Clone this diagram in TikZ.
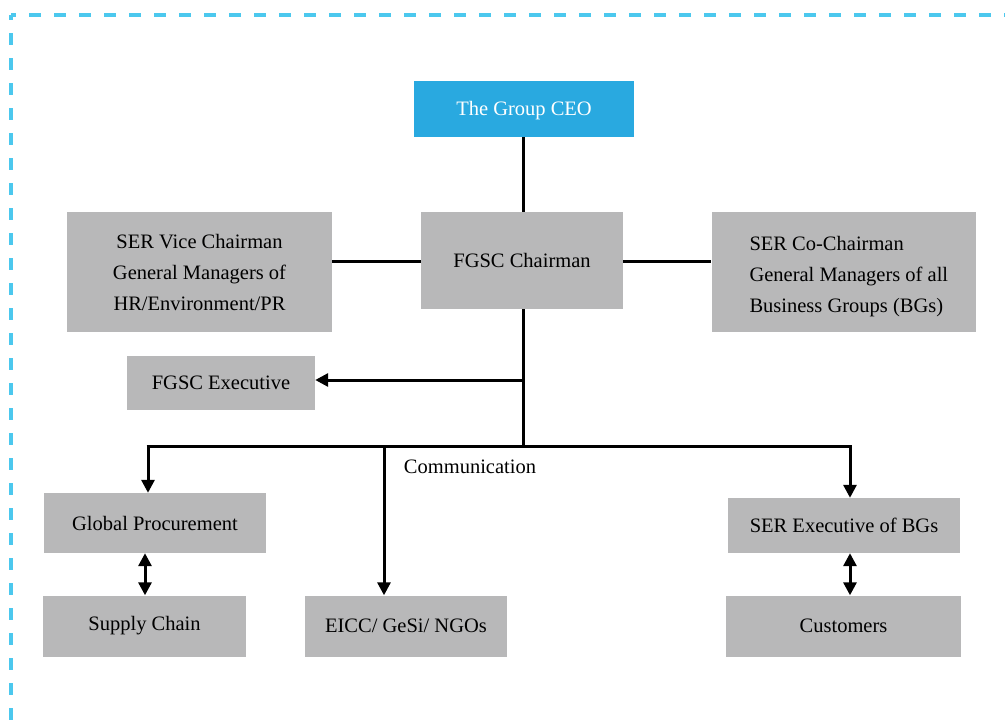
\documentclass[tikz,border=0pt]{standalone}
\usepackage{fontspec}
\setmainfont{Liberation Serif}
\usetikzlibrary{arrows.meta}
\definecolor{boxgray}{HTML}{B8B8B9}
\definecolor{ceoblue}{HTML}{29A9E0}
\definecolor{dashblue}{HTML}{4CC8EE}
\tikzset{
  box/.style={fill=boxgray, inner sep=0pt, font=\fontsize{20.5}{31}\selectfont, align=center},
  ceobox/.style={fill=ceoblue, text=white, inner sep=0pt, font=\fontsize{20.5}{31}\selectfont},
  conn/.style={line width=3pt, draw=black},
  arr/.style={conn, -{Triangle[length=13pt,width=13pt]}},
  darr/.style={conn, {Triangle[length=13pt,width=13pt]}-{Triangle[length=13pt,width=13pt]}},
  border/.style={draw=dashblue, line width=3.2pt, dash pattern=on 12pt off 13pt, dash phase=7pt}
}
\begin{document}
\begin{tikzpicture}[x=1pt,y=-1pt]
\useasboundingbox[fill=white] (0,0) rectangle (1005,728);
\draw[border] (11,15) -- (1010,15);
\draw[border] (11,15) -- (11,735);

\node[ceobox, minimum width=220pt, minimum height=56pt, text depth=2pt] (ceo) at (524,109) {The Group CEO};
\node[box, minimum width=202pt, minimum height=97pt] (chair) at (522,260.5) {FGSC Chairman};
\node[box, minimum width=265pt, minimum height=120pt] (vice) at (199.5,272) {SER Vice Chairman\\General Managers of\\HR/Environment/PR};
\node[box, minimum width=264pt, minimum height=120pt] (cochair) at (843.5,272) {};
\node[font=\fontsize{20.5}{31}\selectfont, align=left, anchor=west, inner sep=0pt] (cochairtext) at ([xshift=38pt,yshift=-5pt]cochair.west) {SER Co-Chairman\\General Managers of all\\Business Groups (BGs)};
\node[box, minimum width=188pt, minimum height=54pt] (exec) at (221,383) {FGSC Executive};
\node[box, minimum width=222pt, minimum height=60pt] (gp) at (155,523) {Global Procurement};
\node[box, minimum width=203pt, minimum height=61pt] (sc) at (144.5,626) {Supply Chain};
\node[box, minimum width=202pt, minimum height=61pt] (eicc) at (406,626) {EICC/ GeSi/ NGOs};
\node[box, minimum width=232pt, minimum height=55pt] (serbg) at (844,525.5) {SER Executive of BGs};
\node[box, minimum width=235pt, minimum height=61pt] (cust) at (843.5,626) {Customers};
\node[font=\fontsize{20.5}{24}\selectfont] (comm) at (470,467) {Communication};

\coordinate (bus) at (523,446);
\coordinate (busL) at (148,446);
\coordinate (busR) at (850,446);
\coordinate (busM) at (384,446);
\coordinate (branch) at (523,380);
\coordinate (side) at (0,261);

\draw[conn] (ceo.south -| 523,0) -- (chair.north -| 523,0);
\draw[conn] (vice.east |- side) -- (chair.west |- side);
\draw[conn] (chair.east |- side) -- (cochair.west |- side);
\draw[conn] (chair.south -| 523,0) -- (bus);
\draw[arr] (branch) -- (exec.east |- branch);
\draw[conn] ([xshift=-1.5pt]busL) -- ([xshift=1.5pt]busR);
\draw[arr] (busL) -- (gp.north -| busL);
\draw[arr] (busM) -- (eicc.north -| busM);
\draw[arr] (busR) -- (serbg.north -| busR);
\draw[darr] (gp.south -| 145,0) -- (sc.north -| 145,0);
\draw[darr] (serbg.south -| 850,0) -- (cust.north -| 850,0);
\end{tikzpicture}
\end{document}
